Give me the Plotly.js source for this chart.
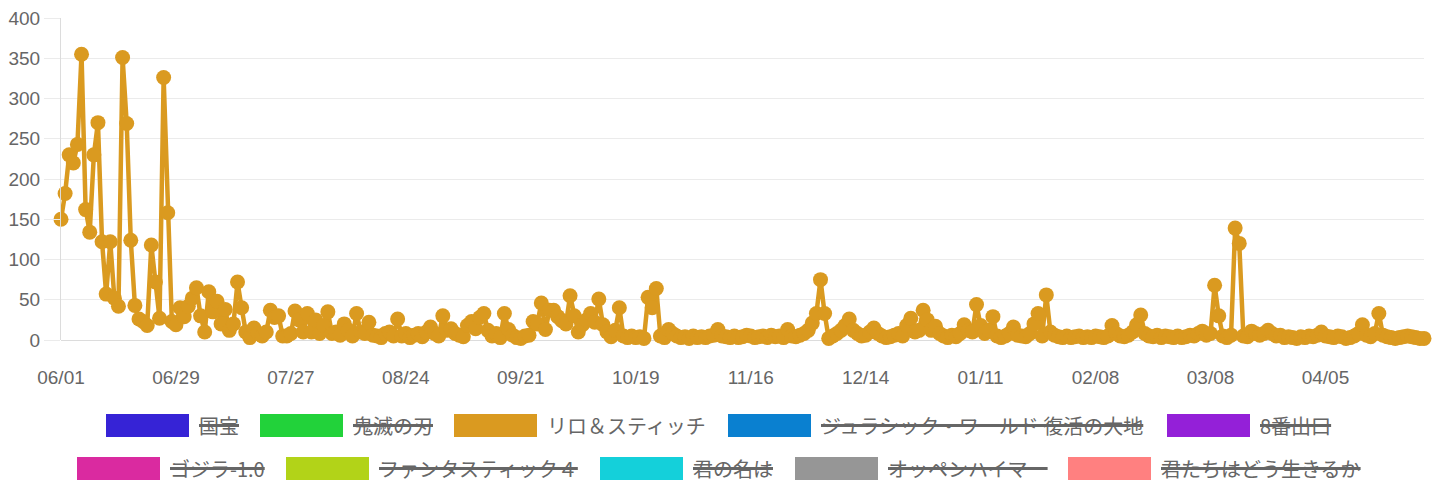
<!DOCTYPE html>
<html>
<head>
<meta charset="utf-8">
<script src="https://cdn.plot.ly/plotly-3.0.1.min.js"></script>
<style>
  html, body { margin: 0; padding: 0; background: #fff; }
  #chart { width: 1437px; height: 500px; }
</style>
</head>
<body>
<div id="chart"></div>
<script>
// ---------- data ----------
const startDate = '2025-06-01';
const liloValues = [
  150,182,230,220,243,355,162,134,230,270,
  122,57,122,52,42,351,269,124,43,26,
  23,18,118,72,27,326,158,23,19,40,
  29,42,52,65,30,10,60,35,48,20,
  38,12,20,72,40,10,3,15,8,5,
  10,37,28,30,5,5,8,36,25,10,
  33,10,25,8,18,35,8,10,6,20,
  12,5,33,10,8,22,6,5,3,8,
  10,5,26,5,8,3,6,8,4,10,
  16,8,5,30,12,14,8,6,4,18,
  23,14,28,33,12,5,8,3,33,13,
  6,3,2,5,6,23,20,46,13,37,
  37,29,24,20,55,30,10,19,25,33,
  22,51,19,10,4,12,40,5,3,5,
  3,4,2,53,40,64,5,3,13,8,
  5,3,4,2,5,3,4,3,5,6,
  13,5,4,3,5,3,4,6,5,3,
  4,5,3,6,4,5,3,13,5,4,
  6,8,12,21,33,75,33,2,5,8,
  12,18,26,12,8,5,6,10,15,8,
  5,3,4,6,8,5,18,27,10,12,
  37,25,12,17,8,5,3,6,4,8,
  19,12,10,44,18,8,12,29,5,3,
  5,8,16,6,5,4,8,20,33,5,
  56,10,6,4,3,5,3,4,5,3,
  4,3,5,4,3,5,18,8,5,4,
  6,10,19,31,8,5,4,6,3,5,
  4,3,5,3,4,6,5,8,11,6,
  8,68,30,5,3,6,139,120,5,4,
  11,8,6,8,12,8,5,6,3,4,
  3,2,4,3,5,4,6,10,5,4,
  3,5,4,2,3,5,8,19,6,4,
  8,33,6,4,3,2,3,4,5,4,
  3,2,2
];
const seriesNames = ['国宝','鬼滅の刃','リロ＆スティッチ','ジュラシック・ワールド 復活の大地','8番出口',
                     'ゴジラ-1.0','ファンタスティック４','君の名は','オッペンハイマー','君たちはどう生きるか'];
const seriesColors = ['#3623D6','#22D23A','#DA9A20','#0A80D0','#9420D8',
                      '#DA2AA0','#B2D318','#14D0DA','#969696','#FF8080'];
const seriesHidden = [true,true,false,true,true,true,true,true,true,true];
const yTickVals = [0,50,100,150,200,250,300,350,400];

// ---------- build ----------
function addDays(iso, n) {
  const d = new Date(iso + 'T00:00:00Z');
  d.setUTCDate(d.getUTCDate() + n);
  return d.toISOString().slice(0, 10);
}
const dates = liloValues.map((_, i) => addDays(startDate, i));

const W = 1437, H = 500, ML = 61, MR = 13, MT = 18, MB = 160;
const PW = W - ML - MR, PH = H - MT - MB;
const px2x = px => (px - ML) / PW;
const py2y = py => (H - MB - py) / PH;

// legend layout (pixel positions)
const legendRows = [[0,1,2,3,4],[5,6,7,8,9]];
const rowBoxLeft = [[106,260,454,728,1167],[77,286,600,795,1068]];
const rowCenterY = [425.5, 468.5];
const boxW = 83, boxH = 23, textGap = 92;

const shapes = [];
const annotations = [];
const annIndexToSeries = [];
legendRows.forEach((row, r) => {
  row.forEach((si, k) => {
    const left = rowBoxLeft[r][k];
    const cy = rowCenterY[r];
    shapes.push({
      type: 'rect', xref: 'paper', yref: 'paper',
      x0: px2x(left), x1: px2x(left + boxW),
      y0: py2y(cy + boxH / 2), y1: py2y(cy - boxH / 2),
      fillcolor: seriesColors[si], line: { width: 0 }
    });
    annotations.push({
      xref: 'paper', yref: 'paper',
      x: px2x(left + textGap), y: py2y(cy),
      xanchor: 'left', yanchor: 'middle',
      text: seriesNames[si], showarrow: false,
      font: { family: 'Noto Sans CJK JP, sans-serif', size: 20, color: '#666' },
      borderpad: 0
    });
    annIndexToSeries.push({ si, cy });
  });
});

const trace = {
  x: dates, y: liloValues, type: 'scatter', mode: 'lines+markers',
  name: seriesNames[2],
  line: { color: seriesColors[2], width: 4.5 },
  marker: { color: seriesColors[2], size: 15 },
  cliponaxis: false, showlegend: false
};

const layout = {
  width: W, height: H,
  margin: { l: ML, r: MR, t: MT, b: MB },
  paper_bgcolor: '#fff', plot_bgcolor: '#fff',
  showlegend: false, hovermode: false,
  font: { family: 'Liberation Sans, Arial, sans-serif', size: 19, color: '#666' },
  xaxis: {
    type: 'date',
    range: [dates[0], dates[dates.length - 1]],
    tick0: startDate, dtick: 28 * 86400000,
    tickformat: '%m/%d',
    showgrid: false, zeroline: false, showline: false,
    ticks: 'outside', ticklen: 20, tickcolor: 'rgba(0,0,0,0)',
    tickfont: { family: 'Liberation Sans, Arial, sans-serif', size: 19, color: '#666' }
  },
  yaxis: {
    range: [0, 400], tickvals: yTickVals,
    showgrid: true, gridcolor: '#ebebeb', gridwidth: 1,
    zeroline: true, zerolinecolor: '#dcdcdc', zerolinewidth: 1,
    showline: true, linecolor: '#dcdcdc', linewidth: 1,
    ticks: 'outside', ticklen: 16, tickcolor: '#ebebeb',
    tickfont: { family: 'Liberation Sans, Arial, sans-serif', size: 19, color: '#666' }
  },
  shapes: shapes,
  annotations: annotations
};

Plotly.newPlot('chart', [trace], layout, { displayModeBar: false, staticPlot: true }).then(gd => {
  // strike-through for hidden series, measured from rendered text
  const texts = gd.querySelectorAll('g.annotation text.annotation-text');
  const rootRect = gd.getBoundingClientRect();
  const strikes = [];
  texts.forEach((t, i) => {
    const info = annIndexToSeries[i];
    if (!info || !seriesHidden[info.si]) return;
    const b = t.getBoundingClientRect();
    const l = b.left - rootRect.left, rr = b.right - rootRect.left;
    strikes.push({
      type: 'line', xref: 'paper', yref: 'paper',
      x0: px2x(l), x1: px2x(rr), y0: py2y(info.cy), y1: py2y(info.cy),
      line: { color: '#666', width: 3 }
    });
  });
  return Plotly.relayout(gd, { shapes: shapes.concat(strikes) });
});
</script>
</body>
</html>
